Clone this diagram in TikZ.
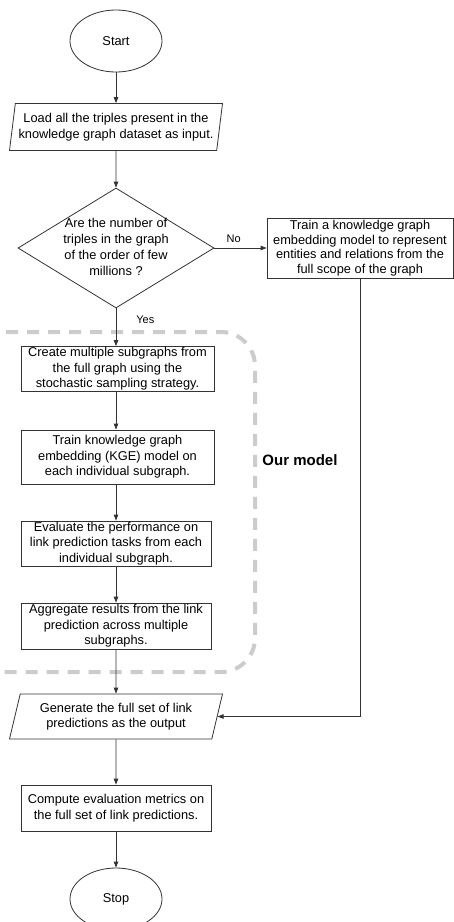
\documentclass[tikz,border=0pt]{standalone}
\usepackage{fontspec}
\setmainfont{Liberation Sans}
\usepackage{tikz}
\usetikzlibrary{arrows.meta,positioning,shapes.geometric,backgrounds}

\begin{document}
\begin{tikzpicture}[
  x=1pt, y=-1pt,
  every node/.style = {font=\fontsize{12.8}{15.5}\selectfont},
  base/.style  = {draw=black!80, line width=0.8pt, align=center, inner sep=1pt},
  term/.style  = {base, ellipse, minimum width=92pt, minimum height=62pt},
  proc/.style  = {base, rectangle, minimum width=190pt},
  inout/.style = {base, trapezium, trapezium stretches body,
                  trapezium left angle=79, trapezium right angle=101,
                  minimum width=213pt, minimum height=47pt},
  decide/.style = {base, diamond, minimum width=196pt, minimum height=120pt,
                   inner sep=0pt},
  lbl/.style   = {font=\fontsize{11}{13}\selectfont, inner sep=0pt},
  arr/.style   = {-{Triangle[length=6pt,width=4.5pt]}, line width=0.8pt, draw=black!80},
  ourzone/.style = {draw=black!20, line width=4pt, dash pattern=on 12pt off 9pt,
                    rounded corners=34pt},
]
\useasboundingbox (0,0) rectangle (454,922);
\clip (0,0) rectangle (454,922);

%% ── Our model zone ──────────────────────────────────────────────────────────
\draw[ourzone] (-40,332) rectangle (255,672);
\node[font=\fontsize{15}{18}\selectfont\bfseries] (ours) at (300,460) {Our model};

%% ── Main column ─────────────────────────────────────────────────────────────
\node[term] (start) at (116,41) {Start};
\node[inout, font=\fontsize{12.8}{16}\selectfont] (load) at (116,127)
  {Load all the triples present in the\\knowledge graph dataset as input.};
\node[decide] (dec) at (116,248) {};
\node[align=center, inner sep=0pt, font=\fontsize{12.8}{16}\selectfont] (dectxt) at (116,247)
  {Are the number of\\triples in the graph\\of the order of few\\millions ?};
\node[proc, minimum width=193pt, minimum height=44pt] (sub) at (117.5,369)
  {Create multiple subgraphs from\\the full graph using the\\stochastic sampling strategy.};
\node[proc, minimum width=193pt, minimum height=54pt] (kge) at (117.5,457)
  {Train knowledge graph\\embedding (KGE) model on\\each individual subgraph.};
\node[proc, minimum height=45pt] (eval) at (116,543.5)
  {Evaluate the performance on\\link prediction tasks from each\\individual subgraph.};
\node[proc, minimum height=46pt] (agg) at (116,626)
  {Aggregate results from the link\\prediction across multiple\\subgraphs.};
\node[inout, trapezium left angle=70, trapezium right angle=110,
      minimum height=45pt] (gen) at (116,716.5)
  {Generate the full set of link\\predictions as the output};
\node[proc, minimum height=46pt] (comp) at (116,808)
  {Compute evaluation metrics on\\the full set of link predictions.};
\node[term] (stop) at (116,899) {Stop};

%% ── Full-graph branch ───────────────────────────────────────────────────────
\node[proc, minimum width=186pt, minimum height=60pt,
      font=\fontsize{12.8}{14.5}\selectfont] (full) at (360,248)
  {Train a knowledge graph\\embedding model to represent\\entities and relations from the\\full scope of the graph};

%% ── Connectors ──────────────────────────────────────────────────────────────
\draw[arr] (start) -- (load);
\draw[arr] (load) -- (dec);
\draw[arr] (dec.south) -- node[lbl, right, pos=0.3, xshift=20pt] {Yes} (dec.south |- sub.north);
\draw[arr] (sub.south -| dec.south) -- (dec.south |- kge.north);
\draw[arr] (kge.south -| dec.south) -- (eval);
\draw[arr] (eval) -- (agg);
\draw[arr] (agg) -- (gen);
\draw[arr] (gen) -- (comp);
\draw[arr] (comp) -- (stop);
\draw[arr] (dec.east) -- node[lbl, above, pos=0.37, yshift=5pt] {No} (full.west);
\draw[arr] (full.south) |- (gen.east);

\end{tikzpicture}
\end{document}
